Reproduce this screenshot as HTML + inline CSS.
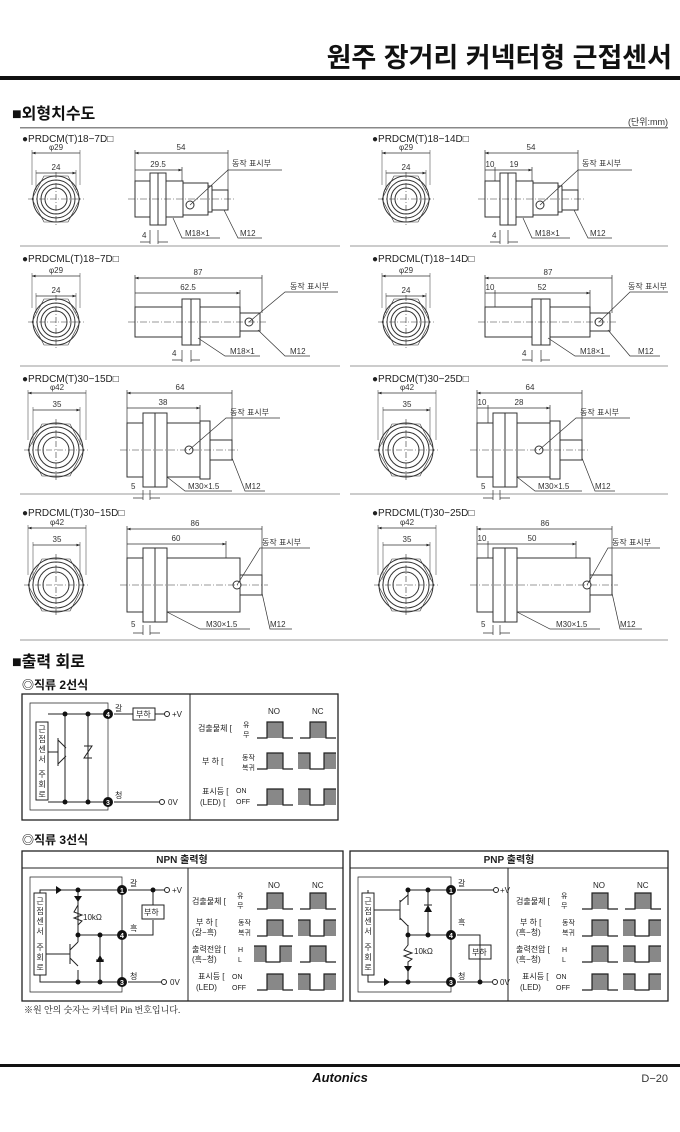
<!DOCTYPE html>
<html><head><meta charset="utf-8"><style>
html,body{margin:0;padding:0;background:#fff;}
svg{display:block;font-family:"Liberation Sans","Noto Sans CJK KR",sans-serif;}
</style></head><body>
<svg width="680" height="1132" viewBox="0 0 680 1132" xmlns="http://www.w3.org/2000/svg">
<defs>
<marker id="a" viewBox="0 0 8 8" refX="8" refY="4" markerWidth="5" markerHeight="5" orient="auto-start-reverse"><path d="M0 1L8 4L0 7z" fill="#222"/></marker>
<g id="f18" fill="none" stroke="#333" stroke-width="1">
<polygon points="-12,-23 12,-23 24,0 12,23 -12,23 -24,0" stroke-width="0.6"/>
<circle r="23"/><circle r="19"/><circle r="15"/><circle r="11"/>
<path d="M-28 0H28M0 -27V27" stroke-dasharray="6 2 1 2" stroke-width="0.6"/>
</g>
<g id="f30" fill="none" stroke="#333" stroke-width="1">
<polygon points="-14,-26 14,-26 28,0 14,26 -14,26 -28,0" stroke-width="0.6"/>
<circle r="27"/><circle r="23"/><circle r="18"/><circle r="13"/>
<path d="M-32 0H32M0 -31V31" stroke-dasharray="6 2 1 2" stroke-width="0.6"/>
</g>
<g id="p"><rect x="10" y="0" width="16" height="16" fill="#888"/><path d="M0 16H10V0H26V16H36" fill="none" stroke="#222" stroke-width="1.2"/></g>
<g id="q"><rect x="0" y="0" width="12" height="16" fill="#888"/><rect x="26" y="0" width="12" height="16" fill="#888"/><path d="M0 0H12V16H26V0H38" fill="none" stroke="#222" stroke-width="1.2"/></g>
</defs>

<text x="672" y="67" font-size="27" font-weight="bold" text-anchor="end" fill="#111">원주 장거리 커넥터형 근접센서</text>
<rect x="0" y="76" width="680" height="4" fill="#111"/>

<text x="12" y="119" font-size="16" font-weight="bold" fill="#111">■외형치수도</text>
<text x="668" y="125" font-size="9" text-anchor="end" fill="#333">(단위:mm)</text>
<rect x="20" y="127" width="648" height="1.5" fill="#888"/>

<g font-size="10" fill="#222">
<text x="22" y="142">●PRDCM(T)18−7D□</text>
<text x="372" y="142">●PRDCM(T)18−14D□</text>
<text x="22" y="262">●PRDCML(T)18−7D□</text>
<text x="372" y="262">●PRDCML(T)18−14D□</text>
<text x="22" y="382">●PRDCM(T)30−15D□</text>
<text x="372" y="382">●PRDCM(T)30−25D□</text>
<text x="22" y="516">●PRDCML(T)30−15D□</text>
<text x="372" y="516">●PRDCML(T)30−25D□</text>
</g>
<g stroke="#999" stroke-width="1">
<path d="M20 246H340M350 246H668M20 366H340M350 366H668M20 494H340M350 494H668M20 640H668"/>
</g>

<g font-size="8" fill="#333" text-anchor="middle">
<g id="fr1">
<use href="#f18" x="56" y="199"/>
<path d="M32 153H80M36 173H76" stroke="#333" stroke-width="0.7" marker-start="url(#a)" marker-end="url(#a)"/>
<path d="M32 150V185M80 150V185M36 170V190M76 170V190" stroke="#333" stroke-width="0.5"/>
<text x="56" y="150">φ29</text><text x="56" y="170">24</text>
</g>
<use href="#fr1" x="350"/>
<use href="#fr1" y="123"/>
<use href="#fr1" x="350" y="123"/>
<g id="fr3">
<use href="#f30" x="56" y="450"/>
<path d="M28 393H86M33 410H80" stroke="#333" stroke-width="0.7" marker-start="url(#a)" marker-end="url(#a)"/>
<path d="M28 390V440M86 390V440M33 407V445M80 407V445" stroke="#333" stroke-width="0.5"/>
<text x="57" y="390">φ42</text><text x="57" y="407">35</text>
</g>
<use href="#fr3" x="350"/>
<use href="#fr3" y="135"/>
<use href="#fr3" x="350" y="135"/>
</g>

<g fill="#fff" stroke="#333" stroke-width="1" font-size="8">
<g id="s1">
<rect x="135" y="181" width="17" height="36"/>
<rect x="150" y="173" width="8" height="52"/><rect x="158" y="173" width="8" height="52"/>
<rect x="166" y="181" width="17" height="36"/>
<rect x="183" y="183" width="25" height="32"/>
<rect x="208" y="186" width="4" height="26"/>
<rect x="212" y="190" width="16" height="20"/>
<circle cx="190" cy="205" r="4"/>
<path d="M128 199H234" stroke-dasharray="7 2 1 2" stroke-width="0.6"/>
</g>
<use href="#s1" x="350"/>
<g id="s2">
<rect x="135" y="307" width="47" height="30"/>
<rect x="182" y="299" width="9" height="46"/><rect x="191" y="299" width="9" height="46"/>
<rect x="200" y="307" width="40" height="30"/>
<rect x="240" y="313" width="20" height="18"/>
<circle cx="249" cy="322" r="4"/>
<path d="M128 322H266" stroke-dasharray="7 2 1 2" stroke-width="0.6"/>
</g>
<use href="#s2" x="350"/>
<g id="s3">
<rect x="127" y="423" width="18" height="54"/>
<rect x="143" y="413" width="12" height="74"/><rect x="155" y="413" width="12" height="74"/>
<rect x="167" y="423" width="33" height="54"/>
<rect x="200" y="421" width="10" height="58"/>
<rect x="210" y="440" width="22" height="20"/>
<circle cx="189" cy="450" r="4"/>
<path d="M120 450H238" stroke-dasharray="7 2 1 2" stroke-width="0.6"/>
</g>
<use href="#s3" x="350"/>
<g id="s4">
<rect x="127" y="558" width="18" height="54"/>
<rect x="143" y="548" width="12" height="74"/><rect x="155" y="548" width="12" height="74"/>
<rect x="167" y="558" width="73" height="54"/>
<rect x="240" y="575" width="22" height="20"/>
<circle cx="237" cy="585" r="4"/>
<path d="M120 585H268" stroke-dasharray="7 2 1 2" stroke-width="0.6"/>
</g>
<use href="#s4" x="350"/>
</g>

<g stroke="#333" stroke-width="0.7" fill="none">
<g marker-start="url(#a)" marker-end="url(#a)">
<path d="M135 153H228M135 170H182"/>
<path d="M485 153H578M485 170H495M495 170H532"/>
<path d="M135 278H262M135 293H240"/>
<path d="M485 278H612M485 293H495M495 293H590"/>
<path d="M127 393H232M127 408H200"/>
<path d="M477 393H582M477 408H488M488 408H550"/>
<path d="M127 529H262M127 544H226"/>
<path d="M477 529H612M477 544H488M488 544H576"/>
</g>
<path d="M135 150V181M228 150V190M182 167V181M485 150V181M578 150V190M532 167V181M495 167V181"/>
<path d="M135 275V307M262 275V313M240 290V307M485 275V307M612 275V313M590 290V307M495 290V307"/>
<path d="M127 390V423M232 390V440M200 405V421M477 390V423M582 390V440M550 405V421M488 405V423"/>
<path d="M127 526V558M262 526V575M226 541V558M477 526V558M612 526V575M576 541V558M488 541V558"/>
<path d="M190 205L228 170H282M540 205L578 170H632"/>
<path d="M249 322L285 292H338M599 322L630 292H668"/>
<path d="M189 450L226 418H280M539 450L576 418H630"/>
<path d="M237 585L260 548H310M587 585L608 548H660"/>
<path d="M173 218L182 238H220M224 210L238 238H262M523 218L532 238H570M574 210L588 238H612"/>
<path d="M198 338L225 356H260M258 330L285 356H310M548 338L575 356H610M608 330L630 356H660"/>
<path d="M167 477L185 491H232M232 458L245 491H265M517 477L535 491H582M582 458L595 491H615"/>
<path d="M167 612L200 629H250M262 593L270 629H292M517 612L550 629H600M612 593L620 629H642"/>
<path d="M150 230V244M158 230V244M140 242H150M158 242H168M500 230V244M508 230V244M490 242H500M508 242H518"/>
<path d="M182 350V362M191 350V362M172 360H182M191 360H200M532 350V362M541 350V362M522 360H532M541 360H550"/>
<path d="M143 490V500M150 490V500M133 498H143M150 498H160M493 490V500M500 490V500M483 498H493M500 498H510"/>
<path d="M143 625V635M150 625V635M133 633H143M150 633H160M493 625V635M500 625V635M483 633H493M500 633H510"/>
</g>
<g font-size="8" fill="#333" text-anchor="middle">
<text x="181" y="150">54</text><text x="158" y="167">29.5</text>
<text x="531" y="150">54</text><text x="490" y="167">10</text><text x="514" y="167">19</text>
<text x="198" y="275">87</text><text x="188" y="290">62.5</text>
<text x="548" y="275">87</text><text x="490" y="290">10</text><text x="542" y="290">52</text>
<text x="180" y="390">64</text><text x="163" y="405">38</text>
<text x="530" y="390">64</text><text x="482" y="405">10</text><text x="519" y="405">28</text>
<text x="195" y="526">86</text><text x="176" y="541">60</text>
<text x="545" y="526">86</text><text x="482" y="541">10</text><text x="532" y="541">50</text>
</g>
<g font-size="8" fill="#333">
<text x="232" y="166">동작 표시부</text><text x="582" y="166">동작 표시부</text>
<text x="290" y="289">동작 표시부</text><text x="628" y="289">동작 표시부</text>
<text x="230" y="415">동작 표시부</text><text x="580" y="415">동작 표시부</text>
<text x="262" y="545">동작 표시부</text><text x="612" y="545">동작 표시부</text>
<text x="142" y="238">4</text><text x="185" y="236">M18×1</text><text x="240" y="236">M12</text>
<text x="492" y="238">4</text><text x="535" y="236">M18×1</text><text x="590" y="236">M12</text>
<text x="172" y="356">4</text><text x="230" y="354">M18×1</text><text x="290" y="354">M12</text>
<text x="522" y="356">4</text><text x="580" y="354">M18×1</text><text x="638" y="354">M12</text>
<text x="131" y="489">5</text><text x="188" y="489">M30×1.5</text><text x="245" y="489">M12</text>
<text x="481" y="489">5</text><text x="538" y="489">M30×1.5</text><text x="595" y="489">M12</text>
<text x="131" y="627">5</text><text x="206" y="627">M30×1.5</text><text x="270" y="627">M12</text>
<text x="481" y="627">5</text><text x="556" y="627">M30×1.5</text><text x="620" y="627">M12</text>
</g>

<text x="12" y="667" font-size="16" font-weight="bold" fill="#111">■출력 회로</text>
<text x="22" y="689" font-size="12" font-weight="bold" fill="#111">◎직류 2선식</text>

<g fill="none" stroke="#222" stroke-width="1">
<rect x="22" y="694" width="316" height="126" stroke-width="1.3"/>
<path d="M190 694V820"/>
<path d="M30 703H108V810H30Z" stroke-width="0.7"/>
<rect x="36" y="722" width="12" height="78"/>
<path d="M48 714H108M48 802H108M65 714V802M88 714V802"/>
<path d="M58 740L66 748M58 764L66 756M58 738V766M48 752H58"/>
<path d="M84 746H92L84 758H92"/>
<path d="M114 714H133M155 714H165M114 802H160"/>
<rect x="133" y="708" width="22" height="12"/>
<circle cx="167" cy="714" r="2.5" fill="#fff"/><circle cx="162" cy="802" r="2.5" fill="#fff"/>
</g>
<g fill="#111"><circle cx="65" cy="714" r="2.5"/><circle cx="88" cy="714" r="2.5"/><circle cx="65" cy="802" r="2.5"/><circle cx="88" cy="802" r="2.5"/>
<circle cx="108" cy="714" r="5"/><circle cx="108" cy="802" r="5"/></g>
<g font-size="7" fill="#fff" font-weight="bold" text-anchor="middle"><text x="108" y="717">4</text><text x="108" y="805">3</text></g>
<g font-size="8" fill="#222" text-anchor="middle">
<text x="42" y="732">근</text><text x="42" y="742">접</text><text x="42" y="752">센</text><text x="42" y="762">서</text>
<text x="42" y="777">주</text><text x="42" y="787">회</text><text x="42" y="797">로</text>
</g>
<g font-size="8" fill="#222">
<text x="115" y="711">갈</text><text x="115" y="798">청</text>
<text x="136" y="717">부하</text><text x="172" y="717">+V</text><text x="168" y="805">0V</text>
<text x="268" y="714">NO</text><text x="312" y="714">NC</text>
<text x="198" y="731">검출물체 [ </text><text x="243" y="727" font-size="7">유</text><text x="243" y="737" font-size="7">무</text>
<text x="202" y="764">부  하 [</text><text x="242" y="760" font-size="7">동작</text><text x="242" y="770" font-size="7">복귀</text>
<text x="202" y="794">표시등 [</text><text x="200" y="805">(LED) [</text><text x="236" y="793" font-size="7">ON</text><text x="236" y="804" font-size="7">OFF</text>
</g>
<use href="#p" x="257" y="722"/><use href="#p" x="300" y="722"/>
<use href="#p" x="257" y="753"/><use href="#q" x="298" y="753"/>
<use href="#p" x="257" y="789"/><use href="#q" x="298" y="789"/>

<text x="22" y="844" font-size="12" font-weight="bold" fill="#111">◎직류 3선식</text>

<g fill="none" stroke="#222" stroke-width="1">
<rect x="22" y="851" width="321" height="150" stroke-width="1.3"/>
<path d="M22 868H343M188 868V1001"/>
<path d="M30 877H122V992H30Z" stroke-width="0.7"/>
<rect x="34" y="893" width="12" height="82"/>
<path d="M40 893V890H122M40 975V982H122M122 890V982M78 890V935M78 935H122M78 970V982M100 935V982"/>
<path d="M78 900V905M78 905L74 912L82 915L74 918L82 921L78 925V935"/>
<path d="M70 950L78 942M70 958L78 966M70 944V964M46 954H70M78 942V935"/>
<path d="M96 960H104M100 952V970"/>
<path d="M128 890H165M153 890V905M153 920V935H128M128 982H162"/>
<rect x="142" y="905" width="22" height="14"/>
<circle cx="167" cy="890" r="2.5" fill="#fff"/><circle cx="164" cy="982" r="2.5" fill="#fff"/>
</g>
<g fill="#111"><path d="M56 886L62 890L56 894Z"/><path d="M74 896L78 902L82 896Z"/><path d="M96 962H104L100 955Z"/>
<circle cx="78" cy="890" r="2.5"/><circle cx="78" cy="935" r="2.5"/><circle cx="100" cy="935" r="2.5"/><circle cx="78" cy="982" r="2.5"/><circle cx="100" cy="982" r="2.5"/><circle cx="153" cy="890" r="2.5"/>
<circle cx="122" cy="890" r="5"/><circle cx="122" cy="935" r="5"/><circle cx="122" cy="982" r="5"/></g>
<g font-size="7" fill="#fff" font-weight="bold" text-anchor="middle"><text x="122" y="893">1</text><text x="122" y="938">4</text><text x="122" y="985">3</text></g>
<g font-size="8" fill="#222" text-anchor="middle">
<text x="40" y="904">근</text><text x="40" y="914">접</text><text x="40" y="924">센</text><text x="40" y="934">서</text>
<text x="40" y="950">주</text><text x="40" y="960">회</text><text x="40" y="970">로</text>
<text x="368" y="904">근</text><text x="368" y="914">접</text><text x="368" y="924">센</text><text x="368" y="934">서</text>
<text x="368" y="950">주</text><text x="368" y="960">회</text><text x="368" y="970">로</text>
</g>
<g font-size="8" fill="#222">
<text x="182" y="863" font-size="10" font-weight="bold" text-anchor="middle">NPN 출력형</text>
<text x="130" y="886">갈</text><text x="130" y="931">흑</text><text x="130" y="979">청</text>
<text x="144" y="915">부하</text><text x="172" y="893">+V</text><text x="170" y="985">0V</text>
<text x="83" y="920">10kΩ</text>
<text x="268" y="888">NO</text><text x="312" y="888">NC</text>
<text x="192" y="904">검출물체 [</text><text x="237" y="898" font-size="7">유</text><text x="237" y="908" font-size="7">무</text>
<text x="196" y="925">부  하 [</text><text x="192" y="935">(갈−흑)</text><text x="238" y="925" font-size="7">동작</text><text x="238" y="935" font-size="7">복귀</text>
<text x="192" y="952">출력전압 [</text><text x="192" y="962">(흑−청)</text><text x="238" y="952" font-size="7">H</text><text x="238" y="962" font-size="7">L</text>
<text x="198" y="979">표시등 [</text><text x="196" y="990">(LED)</text><text x="232" y="979" font-size="7">ON</text><text x="232" y="990" font-size="7">OFF</text>
</g>
<use href="#p" x="257" y="893"/><use href="#p" x="300" y="893"/>
<use href="#p" x="257" y="920"/><use href="#q" x="298" y="920"/>
<use href="#q" x="254" y="946"/><use href="#p" x="300" y="946"/>
<use href="#p" x="257" y="974"/><use href="#q" x="298" y="974"/>

<g fill="none" stroke="#222" stroke-width="1">
<rect x="350" y="851" width="318" height="150" stroke-width="1.3"/>
<path d="M350 868H668M508 868V1001"/>
<path d="M358 877H451V992H358Z" stroke-width="0.7"/>
<rect x="362" y="893" width="12" height="82"/>
<path d="M368 893V890M368 975V982H451M408 890H451M451 890V982M408 890V905M408 925V935H451M428 890V935"/>
<path d="M400 902L408 895M400 918L408 926M400 900V920M374 910H400"/>
<path d="M408 935V945L404 950L412 953L404 956L412 959L408 962V982"/>
<path d="M424 905H432M428 897V920"/>
<path d="M457 890H495M457 935H480V982M457 982H492"/>
<rect x="469" y="945" width="22" height="14"/>
<circle cx="496" cy="890" r="2.5" fill="#fff"/><circle cx="495" cy="982" r="2.5" fill="#fff"/>
</g>
<g fill="#111"><path d="M384 978L390 982L384 986Z"/><path d="M404 966L408 972L412 966Z"/><path d="M424 912H432L428 905Z"/>
<circle cx="408" cy="890" r="2.5"/><circle cx="428" cy="890" r="2.5"/><circle cx="408" cy="935" r="2.5"/><circle cx="428" cy="935" r="2.5"/><circle cx="408" cy="982" r="2.5"/><circle cx="480" cy="982" r="2.5"/>
<circle cx="451" cy="890" r="5"/><circle cx="451" cy="935" r="5"/><circle cx="451" cy="982" r="5"/></g>
<g font-size="7" fill="#fff" font-weight="bold" text-anchor="middle"><text x="451" y="893">1</text><text x="451" y="938">4</text><text x="451" y="985">3</text></g>
<g font-size="8" fill="#222">
<text x="509" y="863" font-size="10" font-weight="bold" text-anchor="middle">PNP 출력형</text>
<text x="458" y="886">갈</text><text x="458" y="925">흑</text><text x="458" y="979">청</text>
<text x="472" y="955">부하</text><text x="500" y="893">+V</text><text x="500" y="985">0V</text>
<text x="414" y="954">10kΩ</text>
<text x="593" y="888">NO</text><text x="637" y="888">NC</text>
<text x="516" y="904">검출물체 [</text><text x="561" y="898" font-size="7">유</text><text x="561" y="908" font-size="7">무</text>
<text x="520" y="925">부  하 [</text><text x="516" y="935">(흑−청)</text><text x="562" y="925" font-size="7">동작</text><text x="562" y="935" font-size="7">복귀</text>
<text x="516" y="952">출력전압 [</text><text x="516" y="962">(흑−청)</text><text x="562" y="952" font-size="7">H</text><text x="562" y="962" font-size="7">L</text>
<text x="522" y="979">표시등 [</text><text x="520" y="990">(LED)</text><text x="556" y="979" font-size="7">ON</text><text x="556" y="990" font-size="7">OFF</text>
</g>
<use href="#p" x="582" y="893"/><use href="#p" x="625" y="893"/>
<use href="#p" x="582" y="920"/><use href="#q" x="623" y="920"/>
<use href="#p" x="582" y="946"/><use href="#q" x="623" y="946"/>
<use href="#p" x="582" y="974"/><use href="#q" x="623" y="974"/>

<text x="24" y="1013" font-size="9" fill="#222" font-family="Liberation Serif, 'Noto Serif CJK SC', serif">※원 안의 숫자는 커넥터 Pin 번호입니다.</text>

<rect x="0" y="1064" width="680" height="3" fill="#111"/>
<text x="340" y="1082" font-size="13" font-weight="bold" font-style="italic" text-anchor="middle" fill="#111">Autonics</text>
<text x="668" y="1082" font-size="11" text-anchor="end" fill="#333">D−20</text>
</svg>
</body></html>
